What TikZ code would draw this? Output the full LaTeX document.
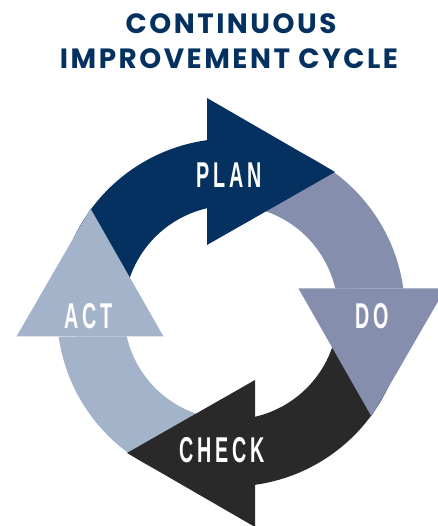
\documentclass[tikz,border=0pt]{standalone}
\usepackage{fontspec}
\newfontfamily\titlefont{Poppins}[LetterSpace=9]
\newfontfamily\stepfont{Liberation Sans}[FakeStretch=0.55,LetterSpace=11]

\definecolor{plannavy}{RGB}{4,49,96}
\definecolor{dogrey}{RGB}{134,142,173}
\definecolor{checkdark}{RGB}{41,41,41}
\definecolor{actblue}{RGB}{162,179,202}

\tikzset{
    titletext/.style = {text = plannavy, font = \titlefont\bfseries\fontsize{28}{30}\selectfont, anchor = base},
    steplabel/.style = {text = white, font = \stepfont\bfseries\fontsize{36}{40}\selectfont, inner sep = 0pt}
}

\begin{document}
\begin{tikzpicture}[x = 1bp, y = 1bp]

    \useasboundingbox (-231,-213.5) rectangle (207,312.5);
    \clip (-231,-213.5) rectangle (207,312.5);

    % ring pieces, inner radius 107, outer radius 174
    \begin{scope}[rotate = 0]
        \fill[plannavy] (180:174) arc (180:97.93:174) -- (102.96:107) arc (102.96:180:107) -- cycle;
    \end{scope}
    \begin{scope}[rotate = -90]
        \fill[dogrey] (180:174) arc (180:97.93:174) -- (102.96:107) arc (102.96:180:107) -- cycle;
    \end{scope}
    \begin{scope}[rotate = -180]
        \fill[checkdark] (180:174) arc (180:97.93:174) -- (102.96:107) arc (102.96:180:107) -- cycle;
    \end{scope}
    \begin{scope}[rotate = -270]
        \fill[actblue] (180:174) arc (180:97.93:174) -- (102.96:107) arc (102.96:180:107) -- cycle;
    \end{scope}

    % arrow heads on top
    \begin{scope}[rotate = 0]
        \fill[plannavy] (-24,67.5) -- (-24,214.5) -- (104,140.5) -- cycle;
    \end{scope}
    \begin{scope}[rotate = -90]
        \fill[dogrey] (-24,67.5) -- (-24,214.5) -- (104,140.5) -- cycle;
    \end{scope}
    \begin{scope}[rotate = -180]
        \fill[checkdark] (-24,67.5) -- (-24,214.5) -- (104,140.5) -- cycle;
    \end{scope}
    \begin{scope}[rotate = -270]
        \fill[actblue] (-24,67.5) -- (-24,214.5) -- (104,140.5) -- cycle;
    \end{scope}

    \node[titletext] (titletop) at (0,278.5) {CONTINUOUS};
    \node[titletext] (titlebottom) at (-2,243.5) {IMPROVEMENT CYCLE};

    \node[steplabel] (plan) at (-2,137.5) {PLAN};
    \node[steplabel] (do) at (141.5,-4) {DO};
    \node[steplabel] (check) at (-9,-137.5) {CHECK};
    \node[steplabel] (act) at (-142.5,-4) {ACT};

\end{tikzpicture}
\end{document}
